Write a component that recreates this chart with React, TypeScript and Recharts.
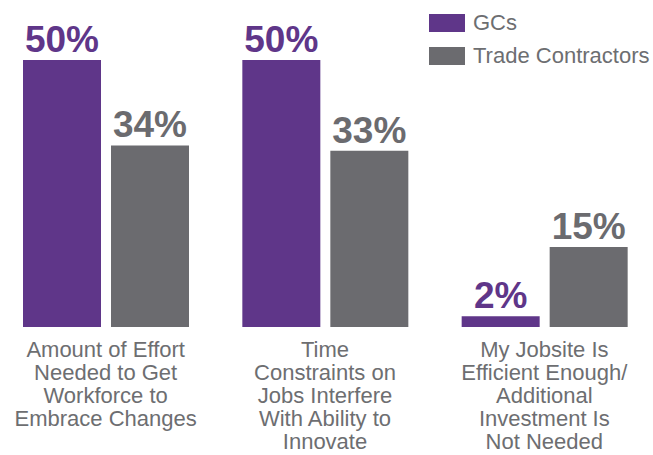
import { BarChart, Bar, XAxis, YAxis, Legend, LabelList } from "recharts";

const categories = [
    "Amount of Effort\nNeeded to Get\nWorkforce to\nEmbrace Changes",
    "Time\nConstraints on\nJobs Interfere\nWith Ability to\nInnovate",
    "My Jobsite Is\nEfficient Enough/\nAdditional\nInvestment Is\nNot Needed",
];
const gcValues = [50, 50, 2];
const tradeValues = [34, 33, 15];
const seriesNames = ["GCs", "Trade Contractors"];

const PURPLE = "#5f3689";
const GRAY = "#6b6b6f";
const TEXT = "#6d6e71";
const FONT = "'Liberation Sans', Arial, sans-serif";

const data = categories.map((name, i) => ({ name, gc: gcValues[i], trade: tradeValues[i] }));

const CategoryTick = ({ x, y, payload }: any) => {
    const lines: string[] = String(payload.value).split("\n");
    return (
        <text x={x} y={y} textAnchor="middle" fill={TEXT} fontSize={22} fontFamily={FONT}>
            {lines.map((line, i) => (
                <tspan key={i} x={x} dy={i === 0 ? 30 : 23}>{line}</tspan>
            ))}
        </text>
    );
};

const LegendContent = () => (
    <div style={{ display: "flex", flexDirection: "column", gap: 15, fontFamily: FONT }}>
        {seriesNames.map((name, i) => (
            <div key={name} style={{ display: "flex", alignItems: "center", height: 18 }}>
                <div style={{ width: 36, height: 18, background: i === 0 ? PURPLE : GRAY }} />
                <span style={{ marginLeft: 8, fontSize: 22, color: TEXT, lineHeight: "18px", whiteSpace: "nowrap" }}>{name}</span>
            </div>
        ))}
    </div>
);

const pct = (v: any) => `${v}%`;

export default function App() {
    return (
        <div style={{ position: "absolute", left: 0, top: 0, width: 653, height: 455, background: "#fff" }}>
            <BarChart
                width={653}
                height={455}
                data={data}
                margin={{ top: 60, right: -1, bottom: 0, left: -4 }}
                barSize={78}
                barGap={10}
            >
                <XAxis
                    dataKey="name"
                    axisLine={false}
                    tickLine={false}
                    tickSize={0}
                    tickMargin={0}
                    height={128}
                    interval={0}
                    tick={<CategoryTick />}
                />
                <YAxis hide domain={[0, 50]} />
                <Legend
                    layout="horizontal"
                    verticalAlign="middle"
                    align="center"
                    content={<LegendContent />}
                    wrapperStyle={{ top: 14, left: 429, width: 230, height: 60 }}
                />
                <Bar dataKey="gc" name={seriesNames[0]} fill={PURPLE} isAnimationActive={false}>
                    <LabelList dataKey="gc" position="top" offset={8} formatter={pct} fill={PURPLE} fontSize={37} fontWeight="bold" fontFamily={FONT} />
                </Bar>
                <Bar dataKey="trade" name={seriesNames[1]} fill={GRAY} isAnimationActive={false}>
                    <LabelList dataKey="trade" position="top" offset={8} formatter={pct} fill={GRAY} fontSize={37} fontWeight="bold" fontFamily={FONT} />
                </Bar>
            </BarChart>
        </div>
    );
}
